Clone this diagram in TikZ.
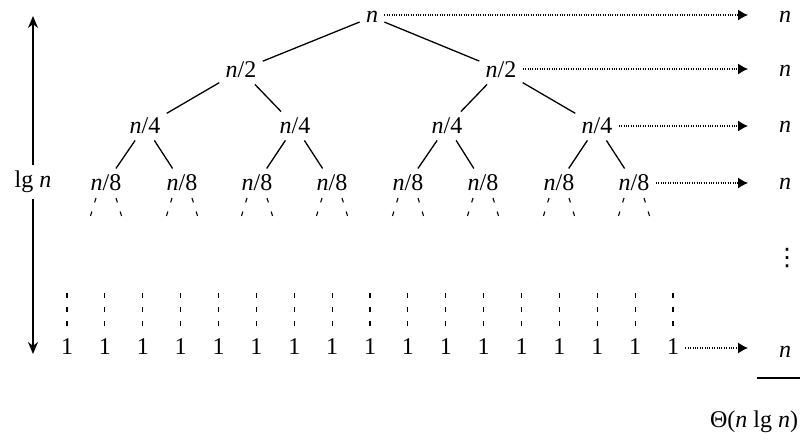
\documentclass[tikz,border=0pt]{standalone}
\usepackage{fontspec}
\setmainfont{Liberation Serif}
\newfontfamily\symfont{DejaVu Sans}
\usetikzlibrary{arrows.meta}
\tikzstyle{lvl}=[inner sep=3pt,font=\fontsize{12}{14}\selectfont]
\tikzstyle{edge}=[line width=0.65pt]
\tikzstyle{stub}=[line width=0.55pt,dash pattern=on 2.3pt off 4.8pt]
\tikzstyle{cost}=[line width=0.6pt,dash pattern=on 0.4pt off 0.8pt,
  -{Latex[length=5pt,width=5.5pt]}]
\newcommand{\nn}{\textit{n}}

\begin{document}
\begin{tikzpicture}[x=0.5pt,y=-0.5pt]
    \useasboundingbox (0,0) rectangle (801,442);
    % tree
    \node [style=lvl] (r) at (372,17) {\nn};
    \node [style=lvl] (h1) at (241,70) {\nn/2};
    \node [style=lvl] (h2) at (501,70) {\nn/2};
    \node [style=lvl] (q1) at (145,126) {\nn/4};
    \node [style=lvl] (q2) at (295,126) {\nn/4};
    \node [style=lvl] (q3) at (447,126) {\nn/4};
    \node [style=lvl] (q4) at (597,126) {\nn/4};
    \foreach \i/\x in {1/106,2/182,3/257,4/332,5/408,6/483,7/559,8/634}
      \node [style=lvl] (e\i) at (\x,183) {\nn/8};
    \foreach \k in {0,...,16}
      \node [style=lvl] (l\k) at ({67+37.875*\k},347) {1};
    \draw [style=edge] (r) to (h1);
    \draw [style=edge] (r) to (h2);
    \draw [style=edge] (h1) to (q1);
    \draw [style=edge] (h1) to (q2);
    \draw [style=edge] (h2) to (q3);
    \draw [style=edge] (h2) to (q4);
    \foreach \i/\a/\b in {1/1/2,2/3/4,3/5/6,4/7/8} {
      \draw [style=edge] (q\i) to (e\a);
      \draw [style=edge] (q\i) to (e\b);
    }
    \foreach \i in {1,...,8} {
      \draw [style=stub] (e\i.center) ++(-10,15) -- ++(-8,26);
      \draw [style=stub] (e\i.center) ++(10,15) -- ++(8,26);
    }
    \foreach \k in {0,...,16}
      \draw [style=stub] (l\k.center) ++(0,-54) -- ++(0,34);
    % cost per level
    \node [style=lvl] (c0) at (785,17) {\nn};
    \node [style=lvl] (c1) at (785,71) {\nn};
    \node [style=lvl] (c2) at (785,127) {\nn};
    \node [style=lvl] (c3) at (785,184) {\nn};
    \node [style=lvl] (cdots) at (787,258) {\symfont ⋮};
    \node [style=lvl] (c4) at (785,352) {\nn};
    \coordinate (t0) at (748,15);
    \coordinate (t1) at (748,69);
    \coordinate (t2) at (748,126);
    \coordinate (t3) at (748,183);
    \coordinate (t4) at (748,348);
    \draw [style=cost] (r.east |- t0) to (t0);
    \draw [style=cost] (h2.east |- t1) to (t1);
    \draw [style=cost] (q4.east |- t2) to (t2);
    \draw [style=cost] (e8.east |- t3) to (t3);
    \draw [style=cost] (l16.east |- t4) to (t4);
    \draw [style=edge] (757,378) -- (800,378);
    \node [style=lvl] (total) at (754,422) {Θ(\nn{} lg \nn)};
    % height
    \node [style=lvl,fill=white] (depth) at (33,182) {lg \nn};
    \coordinate (top) at (33,16);
    \coordinate (bot) at (33,354);
    \draw [style=edge,-{Stealth[length=6pt,width=5pt]}] (depth) to (top);
    \draw [style=edge,-{Stealth[length=6pt,width=5pt]}] (depth) to (bot);
  \end{tikzpicture}
\end{document}
